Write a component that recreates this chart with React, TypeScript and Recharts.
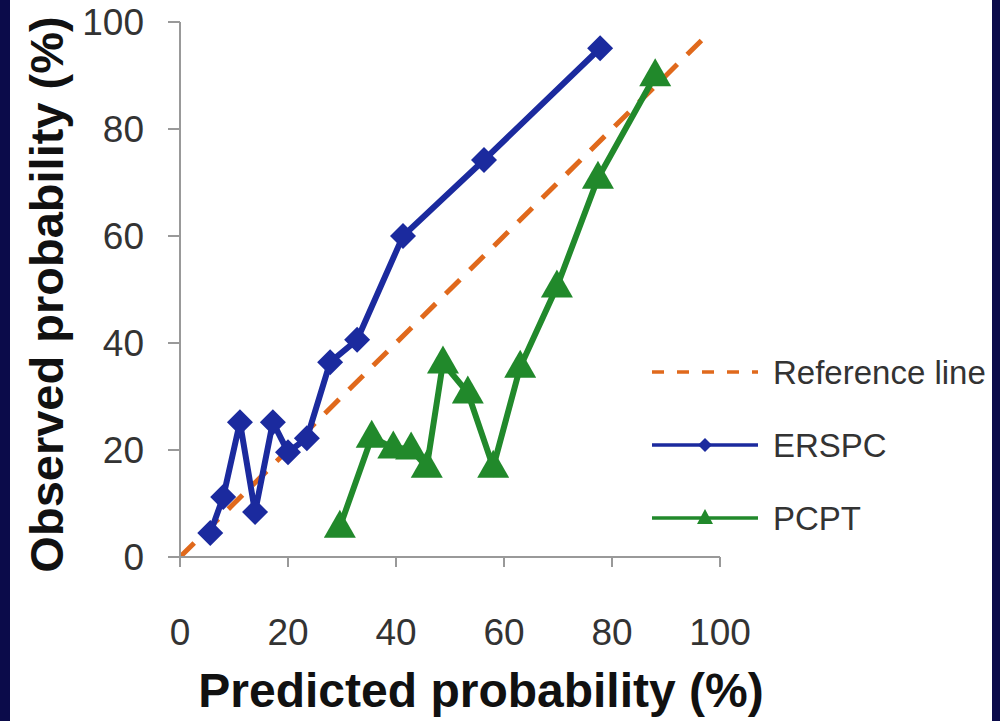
import React from 'react';
import { ComposedChart, Line, XAxis, YAxis, Legend } from 'recharts';

const erspcX = [5.6, 8, 11.1, 13.9, 17.2, 20, 23.5, 27.8, 32.8, 41.3, 56.3, 77.8];
const erspcY = [4.5, 11.2, 25.2, 8.4, 25.2, 19.6, 22.2, 36.4, 40.6, 60, 74.2, 95.1];
const pcptX = [29.6, 35.5, 39.5, 42.8, 45.7, 48.7, 53.3, 58, 63, 69.8, 77.4, 88];
const pcptY = [5.6, 22.4, 20.4, 20.2, 16.8, 36.3, 30.7, 16.8, 35.5, 50.5, 70.8, 90];
const refX = [0, 98];
const refY = [0, 98];
const axisTicks = [0, 20, 40, 60, 80, 100];
const legendLabels = ['Reference line', 'ERSPC', 'PCPT'];

const BLUE = '#1b2a9e';
const GREEN = '#21892b';
const ORANGE = '#e0691c';
const FONT = '"Liberation Sans", Arial, Helvetica, sans-serif';

const zip = (xs: number[], ys: number[]) => xs.map((x, i) => ({ x, y: ys[i] }));
const erspc = zip(erspcX, erspcY);
const pcpt = zip(pcptX, pcptY);
const ref = zip(refX, refY);

const Diamond = (props: any) => {
  const { cx, cy, index } = props;
  if (cx == null || cy == null) return null;
  const r = 13;
  return (
    <path
      key={`d-${index}`}
      d={`M${cx},${cy - r}L${cx + r},${cy}L${cx},${cy + r}L${cx - r},${cy}Z`}
      fill={BLUE}
    />
  );
};

const Triangle = (props: any) => {
  const { cx, cy, index } = props;
  if (cx == null || cy == null) return null;
  const w = 16;
  const h = 28;
  return (
    <path
      key={`t-${index}`}
      d={`M${cx},${cy - h * 0.62}L${cx + w},${cy + h * 0.38}L${cx - w},${cy + h * 0.38}Z`}
      fill={GREEN}
    />
  );
};

const LegendContent = () => {
  const rows = [22, 95, 168];
  return (
    <svg width={345} height={200} style={{ overflow: 'visible' }}>
      <line x1={2} x2={108} y1={rows[0]} y2={rows[0]} stroke={ORANGE} strokeWidth={3.5} strokeDasharray="12 13" />
      <line x1={2} x2={108} y1={rows[1]} y2={rows[1]} stroke={BLUE} strokeWidth={3.5} />
      <path d={`M55,${rows[1] - 7}L62,${rows[1]}L55,${rows[1] + 7}L48,${rows[1]}Z`} fill={BLUE} />
      <line x1={2} x2={108} y1={rows[2]} y2={rows[2]} stroke={GREEN} strokeWidth={3.5} />
      <path d={`M55,${rows[2] - 9}L63,${rows[2] + 6}L47,${rows[2] + 6}Z`} fill={GREEN} />
      {legendLabels.map((t, i) => (
        <text key={t} x={123} y={rows[i]} dy="0.35em" fontSize={33} fill="#333" fontFamily={FONT}>
          {t}
        </text>
      ))}
    </svg>
  );
};

const YTitle = (props: any) => {
  const vb = props.viewBox || { x: 0, y: 0, width: 0, height: 0 };
  const cx = vb.x + 36;
  const cy = vb.y + vb.height / 2 + 5;
  return (
    <text
      x={cx}
      y={cy}
      transform={`rotate(-90 ${cx} ${cy})`}
      textAnchor="middle"
      dominantBaseline="central"
      fontSize={47}
      fontWeight="bold"
      fill="#111"
      fontFamily={FONT}
    >
      Observed probability (%)
    </text>
  );
};

const XTitle = (props: any) => {
  const vb = props.viewBox || { x: 0, y: 0, width: 0, height: 0 };
  const cx = vb.x + vb.width / 2 + 31;
  const cy = vb.y + 133;
  return (
    <text x={cx} y={cy} textAnchor="middle" dominantBaseline="central" fontSize={48} fontWeight="bold" fill="#111" fontFamily={FONT}>
      Predicted probability (%)
    </text>
  );
};

export default function App() {
  return (
    <div
      style={{
        position: 'absolute',
        left: 0,
        top: 0,
        width: 1000,
        height: 721,
        background: '#fff',
        overflow: 'hidden',
      }}
    >
      <div style={{ position: 'absolute', left: 0, top: 0, width: 10, height: 721, background: '#0b0b4a' }} />
      <div style={{ position: 'absolute', right: 0, top: 0, width: 8, height: 721, background: '#0b0b4a' }} />
      <ComposedChart width={1000} height={721} margin={{ top: 22, right: 280, bottom: 0, left: 10 }}>
        <XAxis
          type="number"
          dataKey="x"
          domain={[0, 100]}
          ticks={axisTicks}
          allowDataOverflow
          height={164}
          stroke="#999"
          strokeWidth={2}
          tickSize={10}
          tickMargin={52}
          tick={{ fill: '#333', fontSize: 37, fontFamily: FONT }}
          label={<XTitle />}
        />
        <YAxis
          type="number"
          dataKey="y"
          domain={[0, 100]}
          ticks={axisTicks}
          allowDataOverflow
          width={170}
          stroke="#999"
          strokeWidth={2}
          tickSize={12}
          tickMargin={24}
          tick={{ fill: '#333', fontSize: 37, fontFamily: FONT }}
          label={<YTitle />}
        />
        <Legend
          layout="horizontal"
          verticalAlign="middle"
          align="center"
          content={<LegendContent />}
          wrapperStyle={{ position: 'absolute', left: 650, top: 350, width: 345, height: 200 }}
        />
        <Line
          data={ref}
          dataKey="y"
          type="linear"
          stroke={ORANGE}
          strokeWidth={5}
          strokeDasharray="20 14"
          dot={false}
          activeDot={false}
          isAnimationActive={false}
          legendType="none"
        />
        <Line
          data={erspc}
          dataKey="y"
          type="linear"
          stroke={BLUE}
          strokeWidth={6}
          dot={Diamond}
          activeDot={false}
          isAnimationActive={false}
        />
        <Line
          data={pcpt}
          dataKey="y"
          type="linear"
          stroke={GREEN}
          strokeWidth={6}
          dot={Triangle}
          activeDot={false}
          isAnimationActive={false}
        />
      </ComposedChart>
    </div>
  );
}
